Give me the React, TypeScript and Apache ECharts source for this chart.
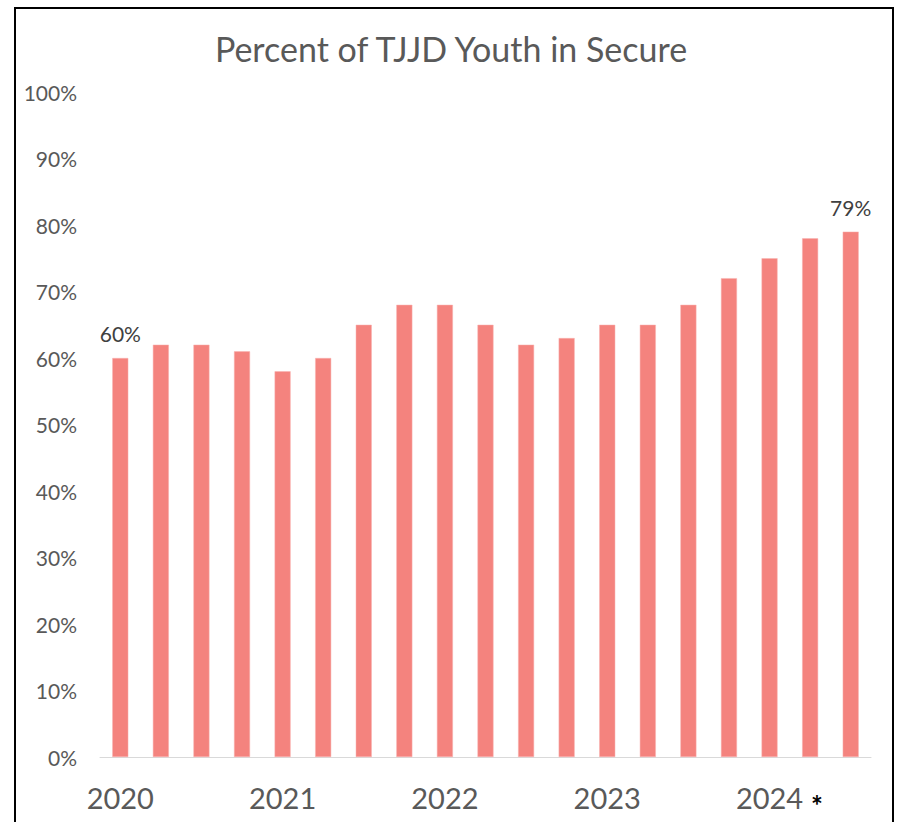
import React, { useEffect, useRef } from "react";
import * as echarts from "echarts";

const categories = [
  "2020", "2020 Q2", "2020 Q3", "2020 Q4",
  "2021", "2021 Q2", "2021 Q3", "2021 Q4",
  "2022", "2022 Q2", "2022 Q3", "2022 Q4",
  "2023", "2023 Q2", "2023 Q3", "2023 Q4",
  "2024", "2024 Q2", "2024 Q3",
];
const values = [60, 62, 62, 61, 58, 60, 65, 68, 68, 65, 62, 63, 65, 65, 68, 72, 75, 78, 79];
const labeledIndexes = [0, 18];
const yTicks = [0, 10, 20, 30, 40, 50, 60, 70, 80, 90, 100];
const titleText = "Percent of TJJD Youth in Secure";
const FONT = "Lato, 'Noto Sans', sans-serif";

export default function App() {
  const ref = useRef<HTMLDivElement>(null);
  useEffect(() => {
    if (!ref.current) return;
    const chart = echarts.init(ref.current, null, { renderer: "svg" });
    chart.setOption({
      animation: false,
      backgroundColor: "#ffffff",
      title: {
        text: titleText,
        left: "center",
        top: 26,
        textStyle: { fontFamily: FONT, fontSize: 34, fontWeight: "normal", color: "#595959" },
      },
      grid: { left: 100, right: 31, top: 92, bottom: 65, containLabel: false },
      xAxis: {
        type: "category",
        data: categories,
        axisLine: { show: true, lineStyle: { color: "#d9d9d9", width: 1 } },
        axisTick: { show: false },
        axisLabel: {
          interval: 3,
          margin: 26,
          fontFamily: FONT,
          fontSize: 29,
          color: "#595959",
          formatter: (v: string) => v.slice(0, 4),
        },
      },
      yAxis: {
        type: "value",
        min: yTicks[0],
        max: yTicks[yTicks.length - 1],
        interval: 10,
        splitLine: { show: false },
        axisLine: { show: false },
        axisTick: { show: false },
        axisLabel: {
          margin: 23,
          fontFamily: FONT,
          fontSize: 21,
          color: "#595959",
          formatter: (v: number) => `${v}%`,
        },
      },
      series: [
        {
          type: "bar",
          barWidth: 16,
          data: values.map((v, i) => ({
            value: v,
            label: {
              show: labeledIndexes.includes(i),
              position: "top",
              distance: 14,
              fontFamily: FONT,
              fontSize: 21,
              color: "#404040",
              formatter: "{c}%",
            },
          })),
          itemStyle: { color: "#F4837E", borderColor: "#F8B3B0", borderWidth: 0.5 },
        },
      ],
      graphic: [
        {
          type: "rect",
          shape: { x: 15, y: 8, width: 878, height: 840 },
          style: { fill: "none", stroke: "#000000", lineWidth: 2 },
          silent: true,
        },
        {
          type: "text",
          x: 811,
          y: 791,
          style: { text: "*", fontFamily: FONT, fontSize: 28, fontWeight: "bold", fill: "#000000" },
        },
      ],
    });
    return () => chart.dispose();
  }, []);
  return (
    <div
      ref={ref}
      style={{ position: "fixed", left: 0, top: 0, width: 902, height: 822 }}
    />
  );
}
